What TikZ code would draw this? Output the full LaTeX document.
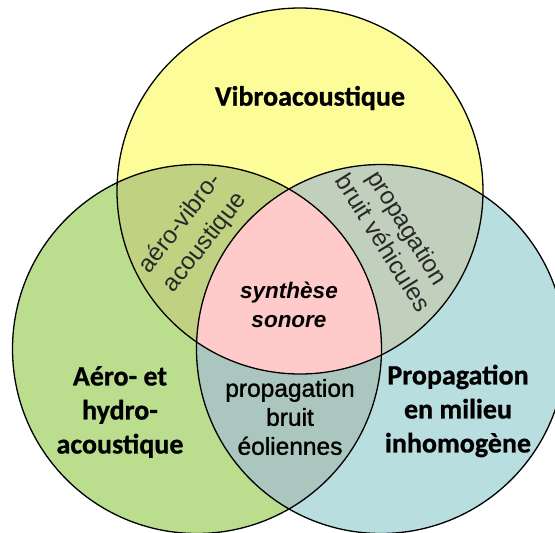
\documentclass[tikz,border=0pt]{standalone}
\usepackage{fontspec}
\setmainfont{Liberation Sans}
\newfontfamily\calib[BoldFeatures={FakeBold=0.8}]{Carlito}
\newfontfamily\semib[FakeBold=1.2]{Liberation Sans}
\definecolor{cyel}{RGB}{252,252,153}
\definecolor{cgrn}{RGB}{186,222,141}
\definecolor{cblu}{RGB}{184,222,224}
\definecolor{cTL}{RGB}{192,209,130}
\definecolor{cTR}{RGB}{192,208,188}
\definecolor{cLR}{RGB}{170,198,190}
\definecolor{cmid}{RGB}{255,202,202}
\definecolor{ctxt}{RGB}{40,40,40}
\begin{document}
\begin{tikzpicture}[x=1pt,y=-1pt,
  ring/.style={draw=black,line width=1.3pt},
  bigtitle/.style={font=\calib\bfseries\fontsize{28}{34}\selectfont,align=center,inner sep=0pt},
  slanted/.style={font=\fontsize{24.5}{30}\selectfont,align=center,inner sep=0pt,text=ctxt},
  inner/.style={font=\semib\fontsize{24.5}{29}\selectfont,align=center,inner sep=0pt},
  core/.style={font=\bfseries\itshape\fontsize{22.5}{29}\selectfont,align=center,inner sep=0pt}]
\useasboundingbox (0,0) rectangle (555,533);
\clip (0,0) rectangle (555,533);
\coordinate (T) at (300,191);
\coordinate (L) at (197,349);
\coordinate (R) at (381,349);
\def\rT{183pt}
\def\rB{184.5pt}
% base fills
\fill[cyel] (T) circle[radius=\rT];
\fill[cgrn] (L) circle[radius=\rB];
\fill[cblu] (R) circle[radius=\rB];
% pairwise overlaps
\begin{scope}
  \clip (T) circle[radius=\rT];
  \fill[cTL] (L) circle[radius=\rB];
  \fill[cTR] (R) circle[radius=\rB];
\end{scope}
\begin{scope}
  \clip (L) circle[radius=\rB];
  \fill[cLR] (R) circle[radius=\rB];
\end{scope}
% triple overlap
\begin{scope}
  \clip (T) circle[radius=\rT];
  \clip (L) circle[radius=\rB];
  \fill[cmid] (R) circle[radius=\rB];
\end{scope}
% outlines
\draw[ring] (T) circle[radius=\rT];
\draw[ring] (L) circle[radius=\rB];
\draw[ring] (R) circle[radius=\rB];
% labels
\node[bigtitle] (vib) at (310,98) {Vibroacoustique};
\node[bigtitle] (aero) at (120,412) {Aéro- et\\hydro-\\acoustique};
\node[bigtitle] (prop) at (458,411) {Propagation\\en milieu\\inhomogène};
\node[slanted,rotate=52,font=\fontsize{24.5}{31}\selectfont] (avb) at (193,233) {aéro-vibro-\\acoustique};
\node[slanted,rotate=-58,font=\fontsize{24.5}{29}\selectfont] (pbv) at (396,235) {propagation\\bruit véhicules};
\node[inner] (pbe) at (290,417) {propagation\\bruit\\éoliennes};
\node[core] (syn) at (289,305) {synthèse\\sonore};
\end{tikzpicture}
\end{document}
